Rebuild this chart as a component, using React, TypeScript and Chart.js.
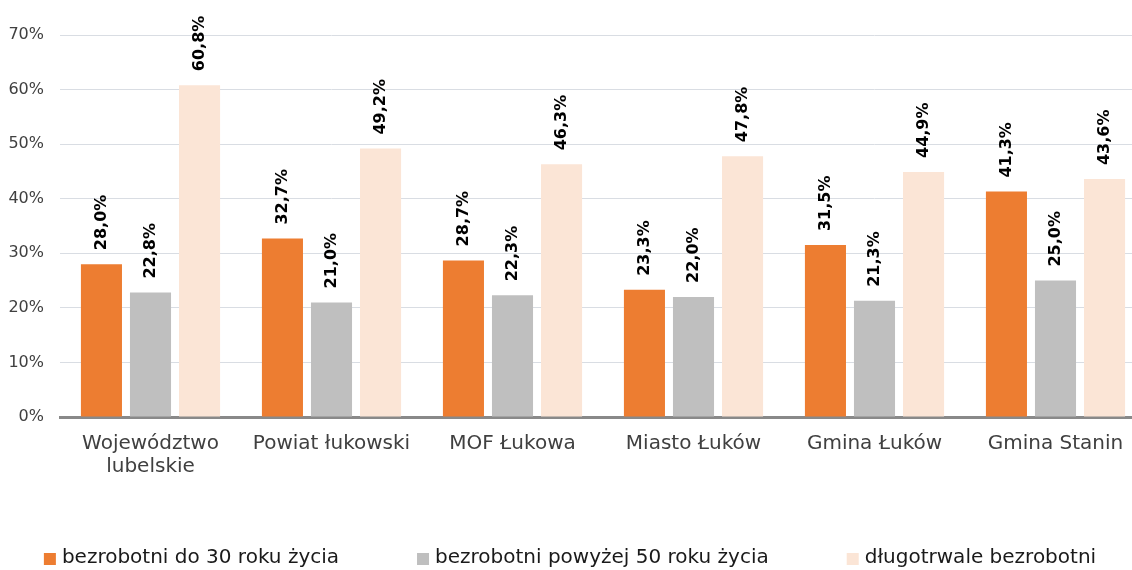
import React, { useEffect, useRef } from "react";
import { Chart, registerables } from "chart.js";

Chart.register(...registerables);

const categories: (string | string[])[] = [
  ["Województwo", "lubelskie"],
  "Powiat łukowski",
  "MOF Łukowa",
  "Miasto Łuków",
  "Gmina Łuków",
  "Gmina Stanin",
];

const seriesNames = [
  "bezrobotni do 30 roku życia",
  "bezrobotni powyżej 50 roku życia",
  "długotrwale bezrobotni",
];

const youngValues = [28.0, 32.7, 28.7, 23.3, 31.5, 41.3];
const olderValues = [22.8, 21.0, 22.3, 22.0, 21.3, 25.0];
const longTermValues = [60.8, 49.2, 46.3, 47.8, 44.9, 43.6];

const seriesColors = ["#ED7D31", "#BFBFBF", "#FBE5D6"];

const yTicksMax = 70;
const yTicksStep = 10;

const FONT = "'DejaVu Sans', Verdana, sans-serif";

const fmt = (v: number) => v.toFixed(1).replace(".", ",") + "%";

const valueLabels = {
  id: "valueLabels",
  afterDatasetsDraw(chart: any) {
    const ctx = chart.ctx;
    ctx.save();
    ctx.font = `bold 16px ${FONT}`;
    ctx.fillStyle = "#000000";
    ctx.textAlign = "left";
    ctx.textBaseline = "middle";
    chart.data.datasets.forEach((ds: any, i: number) => {
      const meta = chart.getDatasetMeta(i);
      meta.data.forEach((el: any, j: number) => {
        const v = ds.data[j];
        ctx.save();
        ctx.translate(el.x, el.y - 14);
        ctx.rotate(-Math.PI / 2);
        ctx.fillText(fmt(v), 0, 0);
        ctx.restore();
      });
    });
    ctx.restore();
  },
};

// Legend drawn along the bottom edge, entries spaced like the original.
const bottomLegend = {
  id: "bottomLegend",
  afterDraw(chart: any) {
    const ctx = chart.ctx;
    const box = 12;
    const textGap = 6;
    const itemGap = 78;
    const centerX = chart.width / 2 - 10;
    const midY = chart.height - 12;
    ctx.save();
    ctx.font = `20px ${FONT}`;
    ctx.textBaseline = "middle";
    ctx.textAlign = "left";
    const items = chart.data.datasets.map((ds: any) => ({
      text: ds.label as string,
      color: ds.backgroundColor as string,
    }));
    const widths = items.map(
      (it: any) => box + textGap + ctx.measureText(it.text).width
    );
    const total =
      widths.reduce((a: number, b: number) => a + b, 0) +
      itemGap * (items.length - 1);
    let x = centerX - total / 2;
    items.forEach((it: any, i: number) => {
      ctx.fillStyle = it.color;
      ctx.fillRect(x, midY - box / 2 + 1, box, box);
      ctx.fillStyle = "#1a1a1a";
      ctx.fillText(it.text, x + box + textGap, midY);
      x += widths[i] + itemGap;
    });
    ctx.restore();
  },
};

export default function App() {
  const ref = useRef<HTMLCanvasElement | null>(null);

  useEffect(() => {
    if (!ref.current) return;
    const chart = new Chart(ref.current, {
      type: "bar",
      data: {
        labels: categories,
        datasets: [youngValues, olderValues, longTermValues].map((d, i) => ({
          label: seriesNames[i],
          data: d,
          backgroundColor: seriesColors[i],
          borderWidth: 0,
          categoryPercentage: 0.813,
          barPercentage: 0.837,
        })),
      },
      options: {
        animation: false,
        responsive: true,
        maintainAspectRatio: false,
        layout: { padding: { left: 8, top: 35, right: 0, bottom: 0 } },
        plugins: {
          tooltip: { enabled: false },
          legend: { display: false },
        },
        scales: {
          x: {
            grid: { display: false, drawTicks: false },
            border: { display: true, color: "#898989", width: 3 },
            ticks: {
              color: "#404040",
              font: { family: FONT, size: 20, lineHeight: 1.15 },
              padding: 15,
              maxRotation: 0,
              autoSkip: false,
            },
            afterFit(scale: any) {
              scale.height = 153;
              scale.paddingLeft = 0;
              scale.paddingRight = 14;
            },
          },
          y: {
            min: 0,
            max: yTicksMax,
            grid: { color: "#D9DDE3", lineWidth: 1, drawTicks: false },
            border: { display: false },
            ticks: {
              stepSize: yTicksStep,
              padding: 16,
              color: "#404040",
              font: { family: FONT, size: 16 },
              callback: (v: any) => `${v}%`,
            },
            afterFit(scale: any) {
              scale.width = 52;
            },
          },
        },
      },
      plugins: [valueLabels, bottomLegend],
    });
    return () => chart.destroy();
  }, []);

  return (
    <div
      style={{
        position: "absolute",
        left: 0,
        top: 0,
        width: 1132,
        height: 570,
        overflow: "hidden",
        background: "#ffffff",
      }}
    >
      <div style={{ position: "relative", width: 1160, height: 570 }}>
        <canvas ref={ref} />
      </div>
    </div>
  );
}
